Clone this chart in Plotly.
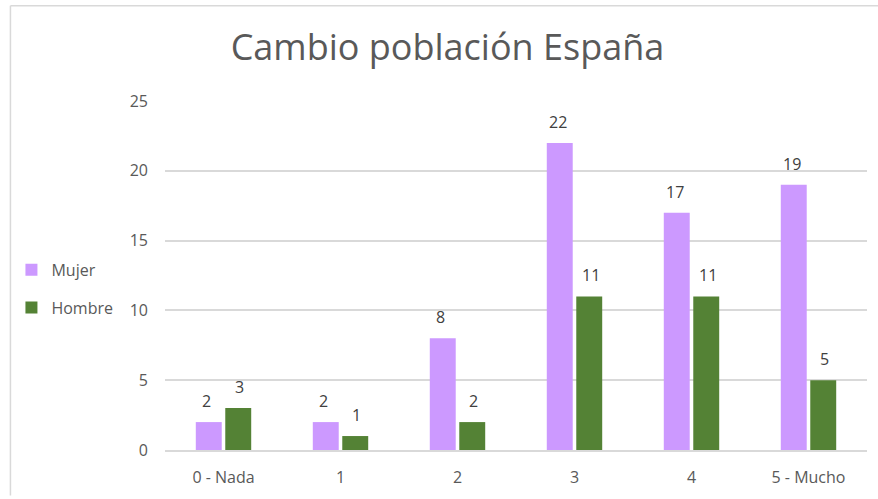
import plotly.graph_objects as go

categories = ["0 - Nada", "1", "2", "3", "4", "5 - Mucho"]
mujer = [2, 2, 8, 22, 17, 19]
hombre = [3, 1, 2, 11, 11, 5]
series_names = ["Mujer", "Hombre"]
colors = ["#CC99FF", "#548235"]
y_ticks = [0, 5, 10, 15, 20, 25]

FONT = "Open Sans"
TXT = "#595959"

fig = go.Figure()
for name, vals, col in zip(series_names, [mujer, hombre], colors):
    fig.add_trace(go.Bar(
        x=categories, y=vals, name=name, marker_color=col,
        marker_line_width=0, legendgroup=name,
    ))

annotations = []
for shift, vals in [(-17, mujer), (16, hombre)]:
    for c, v in zip(categories, vals):
        annotations.append(dict(
            x=c, y=v, xref="x", yref="y", text=str(v), showarrow=False,
            yanchor="bottom", xshift=shift, yshift=8,
            font=dict(family=FONT, size=16, color="#404040"),
        ))

PL, PR, PT, PB = 163, 11, 101, 46
PW, PH = 878 - PL - PR, 499 - PT - PB

fig.update_layout(
    width=878, height=499,
    margin=dict(l=PL, r=PR, t=PT, b=PB),
    paper_bgcolor="white", plot_bgcolor="white",
    title=dict(text="Cambio población España", x=447.5 / 878, xanchor="center",
               y=1 - 47 / 499, yanchor="middle",
               font=dict(family=FONT, size=36, color=TXT)),
    barmode="group", bargap=0.496, bargroupgap=0.12,
    showlegend=True,
    legend=dict(x=(9 - PL) / PW, xanchor="left", y=(453 - 290.5) / PH, yanchor="middle",
                font=dict(family=FONT, size=16, color=TXT),
                traceorder="grouped", tracegroupgap=14,
                bgcolor="rgba(0,0,0,0)"),
    annotations=annotations,
    shapes=[
        dict(type="line", xref="paper", yref="paper",
             x0=(8 - PL) / PW, x1=(878 - PL) / PW,
             y0=(453 - 5) / PH, y1=(453 - 5) / PH,
             line=dict(color="#D9D9D9", width=1.5)),
        dict(type="line", xref="paper", yref="paper",
             x0=(8 - PL) / PW, x1=(8 - PL) / PW,
             y0=(453 - 5) / PH, y1=-PB / PH,
             line=dict(color="#D9D9D9", width=1.5)),
    ],
)
fig.update_xaxes(showgrid=False, showline=True, linecolor="#D9D9D9", linewidth=1.5,
                 ticks="", ticklabelstandoff=12,
                 tickfont=dict(family=FONT, size=16, color=TXT))
fig.update_yaxes(range=[0, 25], tickvals=y_ticks, showgrid=True, gridcolor="#D9D9D9",
                 gridwidth=1.5, zeroline=False, showline=False, ticks="",
                 ticklabelstandoff=16,
                 tickfont=dict(family=FONT, size=16, color=TXT))

fig.write_html("out.html", config={"displayModeBar": False},
               post_script="document.body.style.margin='0';")
